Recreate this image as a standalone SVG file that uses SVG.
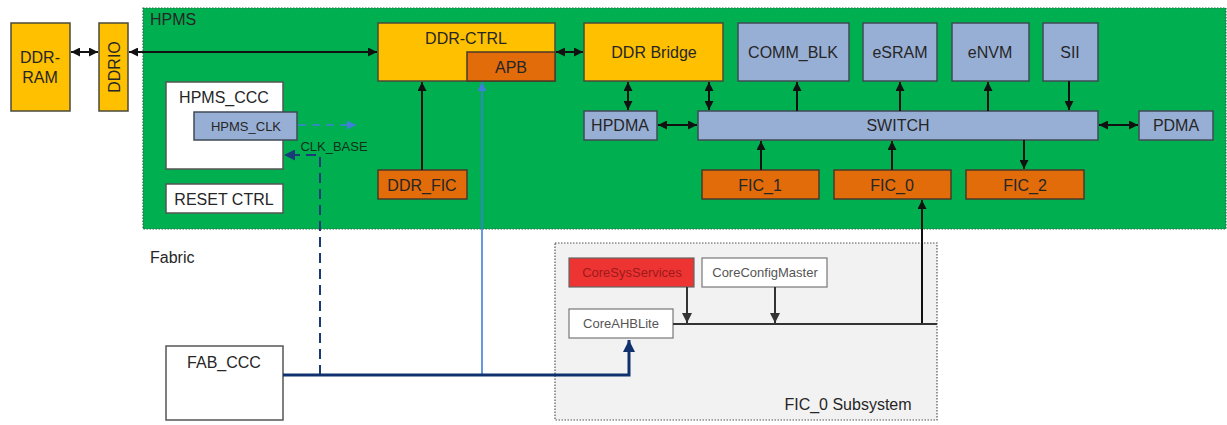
<svg xmlns="http://www.w3.org/2000/svg" width="1227" height="425" viewBox="0 0 1227 425">
<defs>
<style>
text{font-family:"Liberation Sans",Arial,sans-serif;fill:#262626;text-anchor:middle;dominant-baseline:central}
.t16{font-size:16px}
.t13{font-size:13px}
.y{fill:#FFC000;stroke:#4a4a3a;stroke-width:1.5}
.o{fill:#E26B0A;stroke:#4a3a2a;stroke-width:1.5}
.b{fill:#98AFD5;stroke:#3f4a55;stroke-width:1.5}
.w{fill:#ffffff;stroke:#555;stroke-width:1.5}
.g{fill:#F7F7F7;stroke:#666;stroke-width:1.2}
.k{stroke:#111;stroke-width:2;fill:none}
.kd{stroke:#111;stroke-width:2;fill:none;marker-end:url(#ah);marker-start:url(#ah)}
.ke{stroke:#111;stroke-width:2;fill:none;marker-end:url(#ah)}
.ge{stroke:#333;stroke-width:2;fill:none;marker-end:url(#ahg)}
</style>
<marker id="ah" viewBox="0 0 10 10" refX="10" refY="5" markerUnits="userSpaceOnUse" markerWidth="10" markerHeight="9" orient="auto-start-reverse"><path d="M0,0 L10,5 L0,10 z" fill="#111"/></marker>
<marker id="ahg" viewBox="0 0 10 10" refX="10" refY="5" markerUnits="userSpaceOnUse" markerWidth="11" markerHeight="10" orient="auto"><path d="M0,0 L10,5 L0,10 z" fill="#333"/></marker>
<marker id="ahb" viewBox="0 0 10 10" refX="10" refY="5" markerUnits="userSpaceOnUse" markerWidth="10" markerHeight="9" orient="auto"><path d="M0,0 L10,5 L0,10 z" fill="#3F7FD9"/></marker>
<marker id="ahn" viewBox="0 0 10 10" refX="10" refY="5" markerUnits="userSpaceOnUse" markerWidth="13" markerHeight="12" orient="auto"><path d="M0,0 L10,5 L0,10 z" fill="#10306E"/></marker>
<marker id="ahn2" viewBox="0 0 10 10" refX="10" refY="5" markerUnits="userSpaceOnUse" markerWidth="12" markerHeight="11" orient="auto"><path d="M0,0 L10,5 L0,10 z" fill="#1A3A78"/></marker>
</defs>
<rect width="1227" height="425" fill="#ffffff"/>

<g id="hpms">
<rect x="143" y="8" width="1083" height="221" fill="#00B050" stroke="#2f6b45" stroke-width="1.2" stroke-dasharray="1.5,1.5"/>
<text class="t16" x="150" y="19" style="text-anchor:start">HPMS</text>
</g>
<g id="fabric-label"><text class="t16" x="150" y="257" style="text-anchor:start">Fabric</text></g>
<g id="fic0-subsystem">
<rect x="555" y="243" width="382" height="177" fill="#F2F2F2" stroke="#555" stroke-width="1.2" stroke-dasharray="1.5,1.5"/>
<text class="t16" x="848" y="404">FIC_0 Subsystem</text>
</g>

<g id="ddr-ram"><rect class="y" x="11" y="23" width="59" height="88"/><text class="t16" x="40" y="57">DDR-</text><text class="t16" x="40" y="77">RAM</text></g>
<g id="ddrio"><rect class="y" x="99" y="23" width="29" height="88"/><text class="t16" x="114" y="67" transform="rotate(-90 114 67)">DDRIO</text></g>
<g id="ddr-ctrl"><rect class="y" x="378" y="23" width="177" height="58"/><text class="t16" x="466" y="38">DDR-CTRL</text></g>
<g id="apb"><rect class="o" x="467" y="52" width="88" height="29"/><text class="t16" x="511" y="67">APB</text></g>
<g id="ddr-bridge"><rect class="y" x="584" y="23" width="139" height="58"/><text class="t16" x="654" y="52">DDR Bridge</text></g>
<g id="comm-blk"><rect class="b" x="738" y="23" width="111" height="58"/><text class="t16" x="793" y="52">COMM_BLK</text></g>
<g id="esram"><rect class="b" x="863" y="23" width="74" height="58"/><text class="t16" x="900" y="52">eSRAM</text></g>
<g id="envm"><rect class="b" x="952" y="23" width="77" height="58"/><text class="t16" x="990" y="52">eNVM</text></g>
<g id="sii"><rect class="b" x="1043" y="23" width="55" height="58"/><text class="t16" x="1070" y="52">SII</text></g>
<g id="hpdma"><rect class="b" x="584" y="111" width="73" height="29"/><text class="t16" x="620" y="125">HPDMA</text></g>
<g id="switch"><rect class="b" x="698" y="111" width="400" height="29"/><text class="t16" x="898" y="125">SWITCH</text></g>
<g id="pdma"><rect class="b" x="1139" y="111" width="74" height="29"/><text class="t16" x="1176" y="125">PDMA</text></g>
<g id="ddr-fic"><rect class="o" x="378" y="170" width="89" height="29"/><text class="t16" x="422" y="185">DDR_FIC</text></g>
<g id="fic-1"><rect class="o" x="702" y="170" width="117" height="29"/><text class="t16" x="760" y="185">FIC_1</text></g>
<g id="fic-0"><rect class="o" x="834" y="170" width="117" height="29"/><text class="t16" x="892" y="185">FIC_0</text></g>
<g id="fic-2"><rect class="o" x="966" y="170" width="118" height="29"/><text class="t16" x="1025" y="185">FIC_2</text></g>
<g id="hpms-ccc"><rect class="w" x="166" y="82" width="117" height="87"/><text class="t16" x="224" y="97">HPMS_CCC</text></g>
<g id="hpms-clk"><rect class="b" x="194" y="112" width="103" height="28"/><text class="t13" x="246" y="126">HPMS_CLK</text></g>
<g id="reset-ctrl"><rect class="w" x="166" y="184" width="117" height="29"/><text class="t16" x="224" y="199">RESET CTRL</text></g>
<g id="fab-ccc"><rect class="w" x="166" y="346" width="117" height="74"/><text class="t16" x="224" y="362">FAB_CCC</text></g>
<g id="coresysservices"><rect x="569" y="258" width="125" height="29" fill="#EE3333" stroke="#666" stroke-width="1.2"/><text class="t13" x="632" y="272" style="fill:#9E1A1A">CoreSysServices</text></g>
<g id="coreconfigmaster"><rect class="w" x="702" y="258" width="125" height="29" style="stroke:#777;stroke-width:1.2"/><text class="t13" x="765" y="272" style="fill:#555">CoreConfigMaster</text></g>
<g id="coreahblite"><rect class="w" x="569" y="309" width="104" height="29" style="stroke:#777;stroke-width:1.2"/><text class="t13" x="621" y="323" style="fill:#555">CoreAHBLite</text></g>

<g id="connectors">
<line class="kd" x1="71" y1="52" x2="98" y2="52"/>
<line class="kd" x1="129" y1="52" x2="377" y2="52"/>
<line class="kd" x1="556" y1="52" x2="583" y2="52"/>
<line class="ke" x1="422" y1="170" x2="422" y2="82"/>
<line x1="482" y1="375" x2="482" y2="82" stroke="#3F7FD9" stroke-width="1.6" marker-end="url(#ahb)"/>
<line class="kd" x1="628" y1="82" x2="628" y2="110"/>
<line class="kd" x1="709" y1="82" x2="709" y2="110"/>
<line class="kd" x1="658" y1="125" x2="697" y2="125"/>
<line class="ke" x1="797" y1="111" x2="797" y2="82"/>
<line class="ke" x1="900" y1="111" x2="900" y2="82"/>
<line class="ke" x1="988" y1="111" x2="988" y2="82"/>
<line class="ke" x1="1069" y1="81" x2="1069" y2="110"/>
<line class="kd" x1="1099" y1="125" x2="1138" y2="125"/>
<line class="ke" x1="761" y1="170" x2="761" y2="141"/>
<line class="ke" x1="892" y1="170" x2="892" y2="141"/>
<line class="ke" x1="1024" y1="140" x2="1024" y2="169"/>
<line class="ke" x1="922" y1="324" x2="922" y2="200"/>
<line x1="298" y1="125" x2="356" y2="125" stroke="#3F7FD9" stroke-width="1.6" stroke-dasharray="8,6" marker-end="url(#ahb)"/>
<text class="t13" x="334" y="146" style="fill:#10301a">CLK_BASE</text>
<polyline points="320,375 320,155 284,155" fill="none" stroke="#1A3A78" stroke-width="2" stroke-dasharray="10,6" marker-end="url(#ahn2)"/>
<polyline points="283,375 629,375 629,340" fill="none" stroke="#10306E" stroke-width="3" marker-end="url(#ahn)"/>
<line class="k" x1="673" y1="324" x2="937" y2="324" style="stroke:#333"/>
<line class="ge" x1="687" y1="287" x2="687" y2="323"/>
<line class="ge" x1="775" y1="287" x2="775" y2="323"/>
</g>
</svg>
